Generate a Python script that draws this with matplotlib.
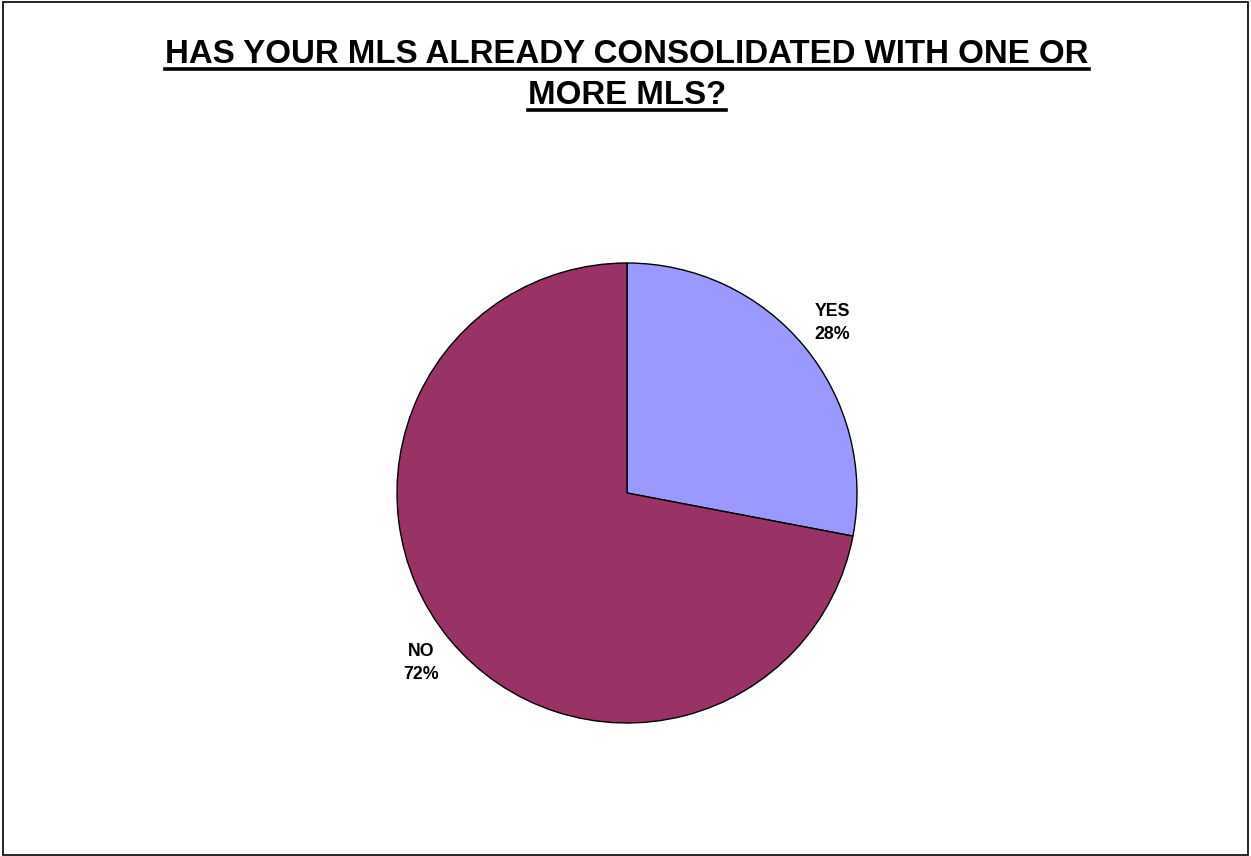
import matplotlib
matplotlib.use("Agg")
import matplotlib.pyplot as plt
from matplotlib.lines import Line2D
from matplotlib.patches import Rectangle

plt.rcParams["font.family"] = ["Liberation Sans", "DejaVu Sans"]

# Survey answers
categories = ["YES", "NO"]
percentages = [28, 72]
colors = ["#9999FF", "#993366"]
title_lines = ["HAS YOUR MLS ALREADY CONSOLIDATED WITH ONE OR", "MORE MLS?"]

W, H = 1251, 856
fig = plt.figure(figsize=(W / 100, H / 100), dpi=100)

# outer chart border
fig.patches.append(Rectangle((3 / W, 1 / H), 1245 / W, 853 / H, transform=fig.transFigure,
                             fill=False, edgecolor="black", linewidth=1.2))

# pie axes centred at (627, 493) px with radius 230 px
cx, cy, r = 627, 493, 230
half = r * 1.5
ax = fig.add_axes([(cx - half) / W, (H - cy - half) / H, 2 * half / W, 2 * half / H])

labels = [f"{c}\n{p}%" for c, p in zip(categories, percentages)]
wedges, texts = ax.pie(percentages, labels=labels, colors=colors, startangle=90,
                       counterclock=False, labeldistance=1.16,
                       wedgeprops={"edgecolor": "black", "linewidth": 1.0})
for t in texts:
    t.set_ha("center")
    t.set_va("center")
    t.set_fontsize(12.8)
    t.set_fontweight("bold")
    t.set_linespacing(1.45)
ax.set_xlim(-1.5, 1.5)
ax.set_ylim(-1.5, 1.5)
ax.axis("off")

# underlined two-line title
baselines = [63, 104]
title_texts = []
for line, base in zip(title_lines, baselines):
    t = fig.text(cx / W, 1 - base / H, line, ha="center", va="baseline",
                 fontsize=23.8, fontweight="bold")
    title_texts.append((t, base))

fig.canvas.draw()
renderer = fig.canvas.get_renderer()
for t, base in title_texts:
    bb = t.get_window_extent(renderer)
    y = 1 - (base + 6) / H
    fig.lines.append(Line2D([bb.x0 / W, bb.x1 / W], [y, y], transform=fig.transFigure,
                            color="black", linewidth=2.6))

fig.savefig("out.png", dpi=100)
